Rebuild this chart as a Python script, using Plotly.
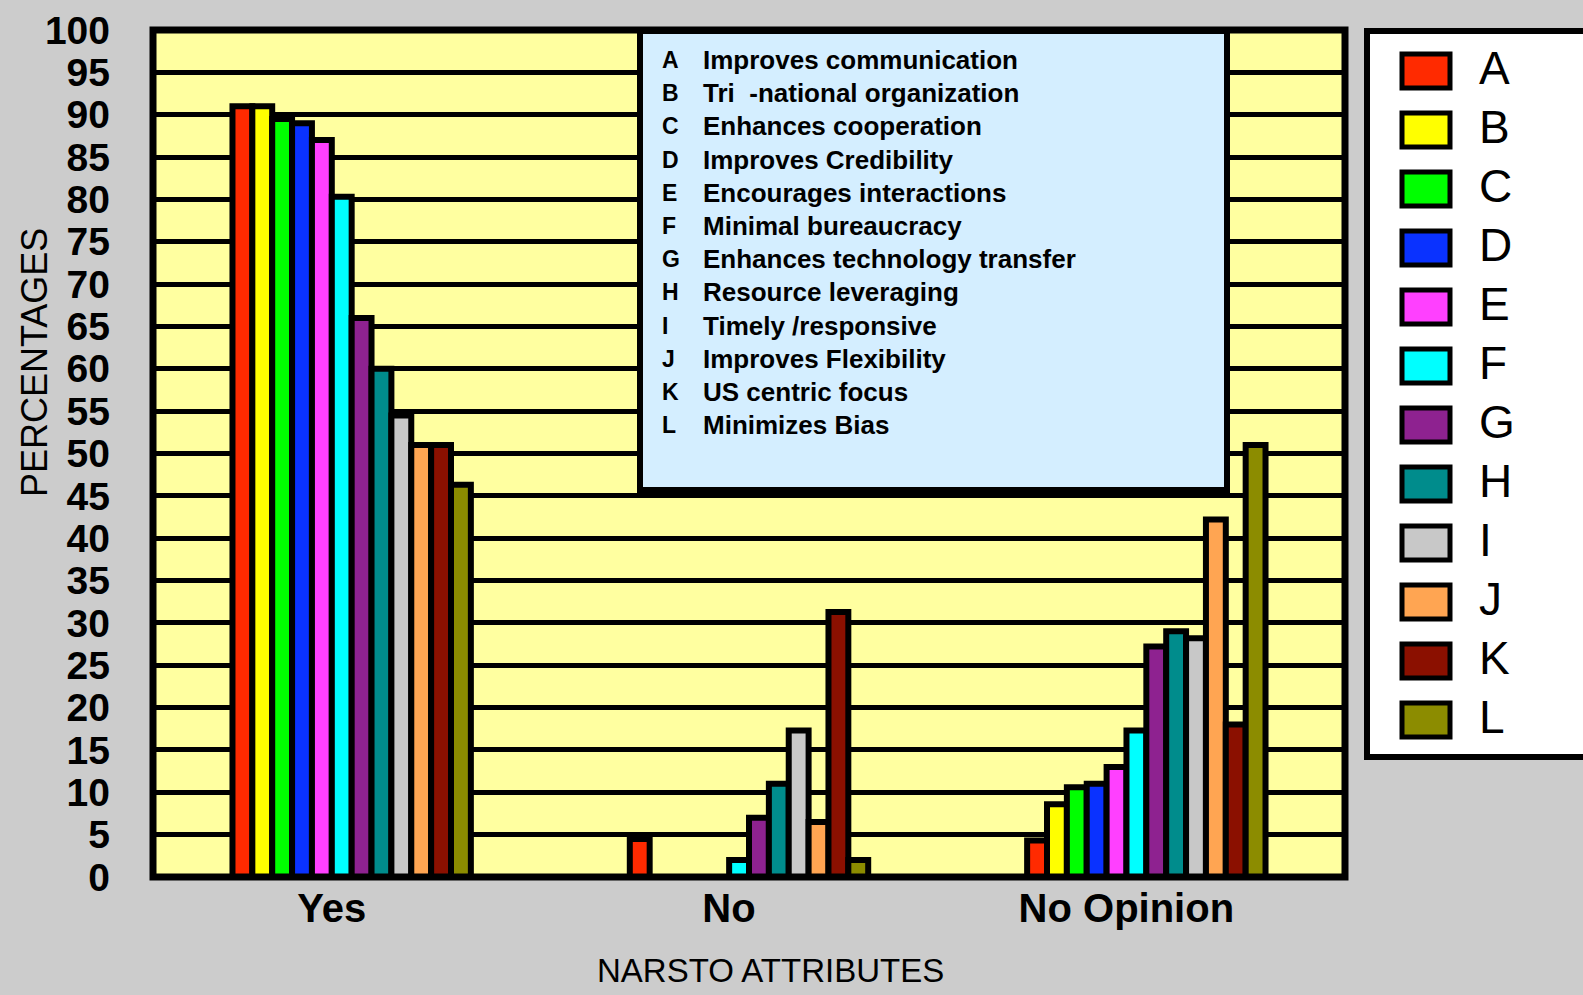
import plotly.graph_objects as go

categories = ["Yes", "No", "No Opinion"]
letters = ["A", "B", "C", "D", "E", "F", "G", "H", "I", "J", "K", "L"]
descriptions = [
    "Improves communication",
    "Tri&nbsp;&nbsp;-national organization",
    "Enhances cooperation",
    "Improves Credibility",
    "Encourages interactions",
    "Minimal bureaucracy",
    "Enhances technology transfer",
    "Resource leveraging",
    "Timely /responsive",
    "Improves Flexibility",
    "US centric focus",
    "Minimizes Bias",
]
yes_vals = [91, 91, 89.5, 89, 87, 80.3, 66, 60, 54.5, 51, 51, 46.3]
no_vals = [4.5, 0, 0, 0, 0, 2, 7, 11, 17.3, 6.5, 31.3, 2]
no_opinion_vals = [4.3, 8.6, 10.6, 11, 13, 17.3, 27.2, 29, 28.2, 42.2, 18, 51]
colors = ["#ff2a00", "#ffff00", "#00ff00", "#0a32ff", "#ff40ff", "#00ffff",
          "#8e2290", "#008c8c", "#c8c8c8", "#ffa552", "#8b1000", "#8c8c00"]

W, H = 1583, 995
ML, MR, MT, MB = 153, 238, 30, 118
PW, PH = W - ML - MR, H - MT - MB
FONT = "Liberation Sans, Arial, sans-serif"


def px(x):
    return (x - ML) / PW


def py(y):
    return (H - MB - y) / PH


fig = go.Figure()
for i, letter in enumerate(letters):
    vals = [yes_vals[i], no_vals[i], no_opinion_vals[i]]
    fig.add_trace(go.Bar(
        name=letter, x=categories, y=vals,
        marker_color=colors[i],
        marker_line=dict(color="black", width=6),
        showlegend=False,
    ))

shapes = []
annotations = []

# plot frame
shapes.append(dict(type="rect", xref="paper", yref="paper", x0=0, x1=1, y0=0, y1=1,
                   line=dict(color="black", width=7), fillcolor="rgba(0,0,0,0)"))

# description box
shapes.append(dict(type="rect", xref="paper", yref="paper",
                   x0=px(640), x1=px(1227), y0=py(490), y1=py(31),
                   line=dict(color="black", width=6), fillcolor="#d4eeff"))
for i, (letter, desc) in enumerate(zip(letters, descriptions)):
    yy = py(60 + 33.2 * i)
    annotations.append(dict(xref="paper", yref="paper", x=px(660), y=yy, text=f"<b>{letter}</b>",
                            xanchor="left", yanchor="middle", showarrow=False,
                            font=dict(family=FONT, size=23, color="black")))
    annotations.append(dict(xref="paper", yref="paper", x=px(701), y=yy, text=f"<b>{desc}</b>",
                            xanchor="left", yanchor="middle", showarrow=False,
                            font=dict(family=FONT, size=26, color="black")))

# legend box
shapes.append(dict(type="rect", xref="paper", yref="paper",
                   x0=px(1367), x1=px(1610), y0=py(757), y1=py(31),
                   line=dict(color="black", width=6), fillcolor="white"))
for i, letter in enumerate(letters):
    yc = 71 + 59 * i
    shapes.append(dict(type="rect", xref="paper", yref="paper",
                       x0=px(1402), x1=px(1450), y0=py(yc + 17), y1=py(yc - 17),
                       line=dict(color="black", width=5), fillcolor=colors[i]))
    annotations.append(dict(xref="paper", yref="paper", x=px(1477), y=py(yc - 3), text=letter,
                            xanchor="left", yanchor="middle", showarrow=False,
                            font=dict(family=FONT, size=46, color="black")))

# axis titles
annotations.append(dict(xref="paper", yref="paper", x=px(35), y=py(363), text="PERCENTAGES",
                        textangle=-90, showarrow=False, xanchor="center", yanchor="middle",
                        font=dict(family=FONT, size=36, color="black")))
annotations.append(dict(xref="paper", yref="paper", x=px(770), y=py(970), text="NARSTO ATTRIBUTES",
                        showarrow=False, xanchor="center", yanchor="middle",
                        font=dict(family=FONT, size=33, color="black")))

fig.update_layout(
    width=W, height=H,
    margin=dict(l=ML, r=MR, t=MT, b=MB, autoexpand=False),
    paper_bgcolor="#cccccc",
    plot_bgcolor="#ffffa0",
    barmode="group", bargap=0.4, bargroupgap=0,
    shapes=shapes, annotations=annotations,
    font=dict(family=FONT, color="black"),
    xaxis=dict(showgrid=False, zeroline=False, showline=False, ticks="",
               tickfont=dict(family=FONT, size=40, color="black", weight="bold"),
               ticklabelstandoff=4, ticklabelshift=-20),
    yaxis=dict(range=[0, 100], dtick=5, tick0=0, showgrid=True, gridcolor="black", gridwidth=5,
               zeroline=False, showline=False, ticks="",
               tickfont=dict(family=FONT, size=39, color="black", weight="bold"),
               ticklabelstandoff=42),
)

fig.write_html("out.html", config={"displayModeBar": False},
               post_script="document.body.style.margin='0';")
